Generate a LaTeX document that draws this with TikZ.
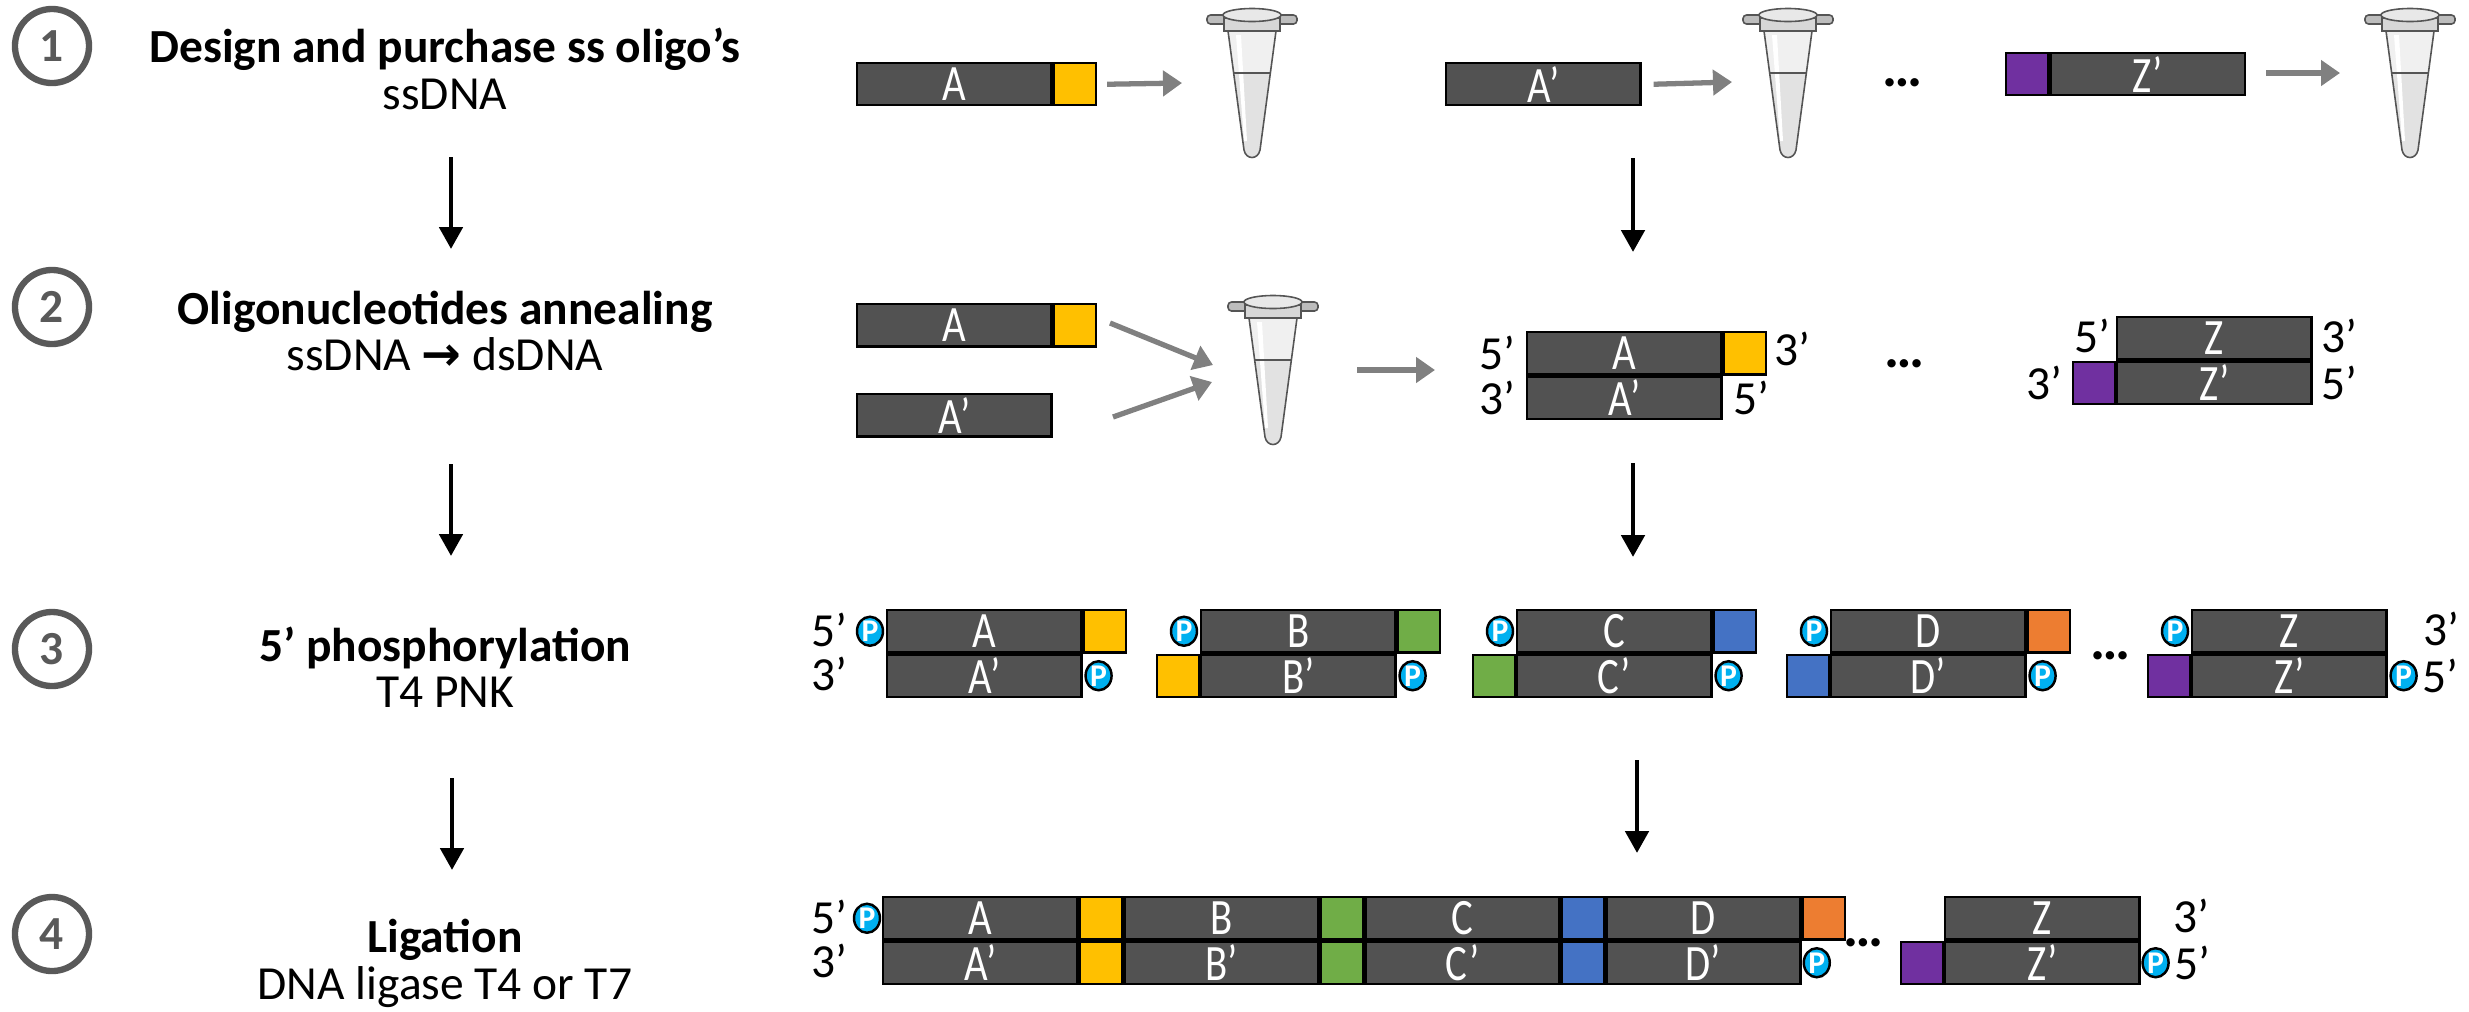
\documentclass[tikz,border=0pt]{standalone}
\usepackage{fontspec}
\setmainfont{Carlito}
\newfontfamily\segfont[FakeStretch=0.8]{Carlito}
\newfontfamily\arrowglyphs{DejaVu Sans}
\usetikzlibrary{arrows.meta,shapes.geometric}
\definecolor{segdark}{HTML}{525252}
\definecolor{capyellow}{HTML}{FFC000}
\definecolor{capgreen}{HTML}{70AD47}
\definecolor{capblue}{HTML}{4472C4}
\definecolor{caporange}{HTML}{ED7D31}
\definecolor{cappurple}{HTML}{7030A0}
\definecolor{phoscyan}{HTML}{00B0F0}
\definecolor{numgray}{HTML}{595959}
\definecolor{feedgray}{HTML}{808080}
\definecolor{tubeedge}{HTML}{555555}
\definecolor{tubebody}{HTML}{F0F0F0}
\definecolor{tubeliquid}{HTML}{E2E2E2}
\definecolor{capgray}{HTML}{BDBDBD}
\begin{document}
\begin{tikzpicture}[x=0.01cm, y=-0.01cm,
  stepnum/.style={circle, draw=numgray, line width=1.8pt, minimum size=0.74cm, inner sep=0pt,
    text=numgray, font=\bfseries\fontsize{13.5}{15}\selectfont},
  steptitle/.style={anchor=base, inner sep=0pt, font=\bfseries\fontsize{13.5}{15}\selectfont},
  stepsub/.style={anchor=base, inner sep=0pt, font=\fontsize{13.5}{15}\selectfont},
  seg/.style={draw=black, line width=0.7pt, fill=segdark, text=white, anchor=north west,
    minimum width=1.94cm, minimum height=0.42cm, inner sep=0pt,
    font=\segfont\fontsize{14.5}{15}\selectfont},
  stub/.style={draw=black, line width=0.7pt, anchor=north west,
    minimum width=0.42cm, minimum height=0.42cm, inner sep=0pt},
  phos/.style={ellipse, draw=black, line width=0.7pt, fill=phoscyan, text=white,
    minimum width=0.26cm, minimum height=0.29cm, inner sep=0pt,
    font=\bfseries\fontsize{9}{10}\selectfont},
  endlbl/.style={inner sep=0pt, font=\fontsize{13.5}{15}\selectfont},
  gap/.style={inner sep=0pt, font=\bfseries\fontsize{16}{18}\selectfont},
  mainarrow/.style={draw=black, line width=1.4pt, -{Triangle[length=0.22cm, width=0.23cm]}},
  feedarrow/.style={draw=feedgray, line width=1.5pt, -{Triangle[length=0.19cm, width=0.25cm]}},
  tubeline/.style={draw=tubeedge, line width=0.45pt},
  tube/.pic={
    % conical body
    \path[fill=tubebody] (-24,28) -- (-8,147) .. controls (-6,157) and (6,157) .. (8,147) -- (24,28) -- cycle;
    % liquid
    \path[fill=tubeliquid] (-18.2,70) -- (-8,147) .. controls (-6,157) and (6,157) .. (8,147) -- (18.2,70) -- cycle;
    % reflection
    \path[fill=white] (-16,32) -- (-8,138) -- (-5,138) -- (-11,32) -- cycle;
    \draw[tubeline] (-24,28) -- (-8,147) .. controls (-6,157) and (6,157) .. (8,147) -- (24,28);
    \draw[tubeline, line width=0.6pt] (-18.2,70) -- (18.2,70);
    % hinge tabs, rim and lid
    \draw[tubeline, fill=capgray, rounded corners=1pt] (-45,12) rectangle (45,21);
    \draw[tubeline, fill=capgray!60!white] (-28,15) rectangle (28,28);
    \draw[tubeline, fill=capgray!35!white] (0,12) ellipse [x radius=0.29cm, y radius=0.065cm];
  },
]
\useasboundingbox (0,0) rectangle (2469,1011);

% ---------------- step column ----------------
\node[stepnum] (n1) at (52,46) {1};
\node[stepnum] (n2) at (52,307) {2};
\node[stepnum] (n3) at (52,649) {3};
\node[stepnum] (n4) at (52,934) {4};

\node[steptitle] (t1) at (445,62) {Design and purchase ss oligo’s};
\node[stepsub] (s1) at (445,109) {ssDNA};
\node[steptitle] (t2) at (445,324) {Oligonucleotides annealing};
\node[stepsub] (s2) at (445,370) {ssDNA {\arrowglyphs\bfseries →} dsDNA};
\node[steptitle] (t3) at (445,661) {5’ phosphorylation};
\node[stepsub] (s3) at (445,707) {T4 PNK};
\node[steptitle] (t4) at (445,952) {Ligation};
\node[stepsub] (s4) at (445,999) {DNA ligase T4 or T7};

\coordinate (l12a) at (451,157); \coordinate (l12b) at (451,249);
\coordinate (l23a) at (451,464); \coordinate (l23b) at (451,556);
\coordinate (l34a) at (452,778); \coordinate (l34b) at (452,870);
\draw[mainarrow] (l12a) -- (l12b);
\draw[mainarrow] (l23a) -- (l23b);
\draw[mainarrow] (l34a) -- (l34b);

% ---------------- step 1: single strands ----------------
\node[seg] (r1a) at (856,62) {A};
\node[stub, fill=capyellow] (r1ay) at (r1a.north east) {};
\node[seg] (r1ap) at (1445,62) {A’};
\node[stub, fill=cappurple] (r1zs) at (2005,52) {};
\node[seg] (r1zp) at (r1zs.north east) {Z’};
\node[gap] (r1dots) at (1902,83) {…};

\pic (tubeA) at (1252,3) {tube};
\pic (tubeB) at (1788,3) {tube};
\pic (tubeZ) at (2410,3) {tube};

\coordinate (r1in1) at (1182,83);
\coordinate (r1in2) at (1732,82);
\coordinate (r1in3) at (2340,73);
\draw[feedarrow] ([xshift=0.1cm]r1ay.east) -- (r1in1);
\draw[feedarrow] ([xshift=0.12cm]r1ap.east) -- (r1in2);
\draw[feedarrow] ([xshift=0.2cm]r1zp.east |- r1in3) -- (r1in3);

\coordinate (r12a) at (1633,158); \coordinate (r12b) at (1633,252);
\draw[mainarrow] (r12a) -- (r12b);

% ---------------- step 2: annealing ----------------
\node[seg] (r2a) at (856,303) {A};
\node[stub, fill=capyellow] (r2ay) at (r2a.north east) {};
\node[seg] (r2ap) at (856,393) {A’};

\pic (tubeM) at (1273,290) {tube};
\coordinate (r2in1) at (1213,365);
\coordinate (r2in2) at (1212,382);
\coordinate (r2out) at (1357,370);
\coordinate (r2dup) at (1435,370);
\draw[feedarrow] (1110,323) coordinate (r2from1) -- (r2in1);
\draw[feedarrow] (1113,417) coordinate (r2from2) -- (r2in2);
\draw[feedarrow] (r2out) -- (r2dup);

\node[seg] (r2da) at (1526,331) {A};
\node[stub, fill=capyellow] (r2day) at (r2da.north east) {};
\node[seg] (r2dap) at (r2da.south west) {A’};
\node[endlbl, anchor=east] (r2l5) at ([xshift=-0.1cm]r2da.west) {5’};
\node[endlbl, anchor=east] (r2l3) at ([xshift=-0.1cm]r2dap.west) {3’};
\node[endlbl, anchor=west] (r2r3) at ([xshift=0.07cm, yshift=0.04cm]r2day.east) {3’};
\node[endlbl, anchor=west] (r2r5) at ([xshift=0.1cm]r2dap.east) {5’};

\node[gap] (r2dots) at (1904,364) {…};

\node[seg] (r2z) at (2116,316) {Z};
\node[seg] (r2zp) at (r2z.south west) {Z’};
\node[stub, fill=cappurple, anchor=north east] (r2zs) at (r2zp.north west) {};
\node[endlbl, anchor=east] (r2zl5) at ([xshift=-0.05cm, yshift=0.02cm]r2z.west) {5’};
\node[endlbl, anchor=east] (r2zl3) at ([xshift=-0.08cm]r2zs.west) {3’};
\node[endlbl, anchor=west] (r2zr3) at ([xshift=0.08cm, yshift=0.02cm]r2z.east) {3’};
\node[endlbl, anchor=west] (r2zr5) at ([xshift=0.08cm]r2zp.east) {5’};

\coordinate (r23a) at (1633,463); \coordinate (r23b) at (1633,557);
\draw[mainarrow] (r23a) -- (r23b);

% ---------------- step 3: phosphorylated duplexes ----------------
\node[endlbl] (r3l5) at (829,630) {5’};
\node[endlbl] (r3l3) at (829,674) {3’};

% A
\node[seg] (r3a) at (886,609) {A};
\node[stub, fill=capyellow] (r3ay) at (r3a.north east) {};
\node[seg] (r3ap) at (r3a.south west) {A’};
\node[phos] (r3pa) at ([xshift=-0.16cm]r3a.west) {P};
\node[phos] (r3pap) at ([xshift=0.16cm]r3ap.east) {P};
% B
\node[seg] (r3b) at (1200,609) {B};
\node[stub, fill=capgreen] (r3bg) at (r3b.north east) {};
\node[seg] (r3bp) at (r3b.south west) {B’};
\node[stub, fill=capyellow, anchor=north east] (r3by) at (r3bp.north west) {};
\node[phos] (r3pb) at ([xshift=-0.16cm]r3b.west) {P};
\node[phos] (r3pbp) at ([xshift=0.16cm]r3bp.east) {P};
% C
\node[seg] (r3c) at (1516,609) {C};
\node[stub, fill=capblue] (r3cb) at (r3c.north east) {};
\node[seg] (r3cp) at (r3c.south west) {C’};
\node[stub, fill=capgreen, anchor=north east] (r3cg) at (r3cp.north west) {};
\node[phos] (r3pc) at ([xshift=-0.16cm]r3c.west) {P};
\node[phos] (r3pcp) at ([xshift=0.16cm]r3cp.east) {P};
% D
\node[seg] (r3d) at (1830,609) {D};
\node[stub, fill=caporange] (r3do) at (r3d.north east) {};
\node[seg] (r3dp) at (r3d.south west) {D’};
\node[stub, fill=capblue, anchor=north east] (r3db) at (r3dp.north west) {};
\node[phos] (r3pd) at ([xshift=-0.16cm]r3d.west) {P};
\node[phos] (r3pdp) at ([xshift=0.16cm]r3dp.east) {P};

\node[gap] (r3dots) at (2110,656) {…};

% Z
\node[seg] (r3z) at (2191,609) {Z};
\node[seg] (r3zp) at (r3z.south west) {Z’};
\node[stub, fill=cappurple, anchor=north east] (r3zs) at (r3zp.north west) {};
\node[phos] (r3pz) at ([xshift=-0.16cm]r3z.west) {P};
\node[phos] (r3pzp) at ([xshift=0.16cm]r3zp.east) {P};
\node[endlbl, anchor=west] (r3r3) at ([xshift=0.35cm, yshift=0.02cm]r3z.east) {3’};
\node[endlbl, anchor=west] (r3r5) at ([xshift=0.04cm]r3pzp.east) {5’};

\coordinate (r34a) at (1637,760); \coordinate (r34b) at (1637,853);
\draw[mainarrow] (r34a) -- (r34b);

% ---------------- step 4: ligated product ----------------
\node[endlbl] (r4l5) at (829,917) {5’};
\node[endlbl] (r4l3) at (829,961) {3’};

\node[seg] (r4a) at (882,896) {A};
\node[stub, fill=capyellow] (r4y) at (r4a.north east) {};
\node[seg] (r4b) at (r4y.north east) {B};
\node[stub, fill=capgreen] (r4g) at (r4b.north east) {};
\node[seg] (r4c) at (r4g.north east) {C};
\node[stub, fill=capblue] (r4bl) at (r4c.north east) {};
\node[seg] (r4d) at (r4bl.north east) {D};
\node[stub, fill=caporange] (r4o) at (r4d.north east) {};

\node[seg] (r4ap) at (r4a.south west) {A’};
\node[stub, fill=capyellow] (r4yp) at (r4ap.north east) {};
\node[seg] (r4bp) at (r4yp.north east) {B’};
\node[stub, fill=capgreen] (r4gp) at (r4bp.north east) {};
\node[seg] (r4cp) at (r4gp.north east) {C’};
\node[stub, fill=capblue] (r4blp) at (r4cp.north east) {};
\node[seg] (r4dp) at (r4blp.north east) {D’};

\node[phos] (r4pa) at ([xshift=-0.15cm]r4a.west) {P};
\node[phos] (r4pdp) at ([xshift=0.15cm]r4dp.east) {P};

\node[gap] (r4dots) at (1863,943) {…};

\node[seg] (r4z) at (1944,896) {Z};
\node[seg] (r4zp) at (r4z.south west) {Z’};
\node[stub, fill=cappurple, anchor=north east] (r4zs) at (r4zp.north west) {};
\node[phos] (r4pzp) at ([xshift=0.15cm]r4zp.east) {P};
\node[endlbl, anchor=west] (r4r3) at ([xshift=0.32cm, yshift=0.02cm]r4z.east) {3’};
\node[endlbl, anchor=west] (r4r5) at ([xshift=0.04cm]r4pzp.east) {5’};
\end{tikzpicture}
\end{document}
